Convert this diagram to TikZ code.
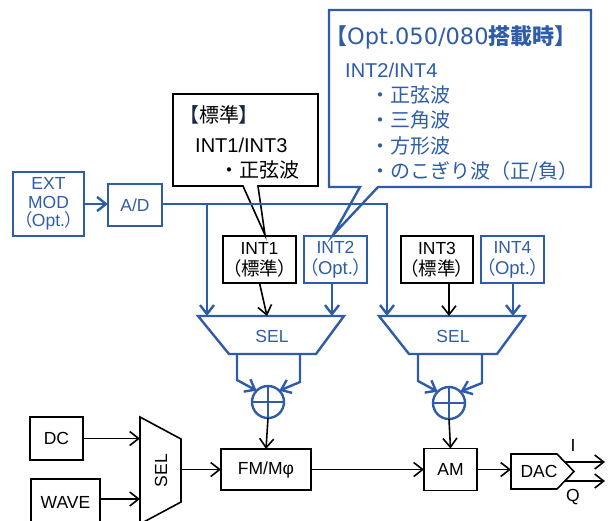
\documentclass[tikz,border=0pt]{standalone}
\usepackage{fontspec}
\setmainfont{Liberation Sans}
\newfontfamily\jp{Noto Sans CJK JP}
\newfontfamily\jpp[RawFeature=+palt]{Noto Sans CJK JP}
\newfontfamily\wide{DejaVu Sans}
\usetikzlibrary{arrows.meta}
\definecolor{bl}{RGB}{46,92,168}
\definecolor{navy}{RGB}{28,38,70}
\newcommand\lblfont{\fontsize{17.5}{21}\selectfont}
\newcommand\subfont{\fontsize{18.5}{21}\selectfont}
\newcommand\calfont{\fontsize{20}{24}\selectfont}
\begin{document}
\begin{tikzpicture}[x=1pt,y=-1pt,
  bk/.style={draw=black,line width=1.6pt},
  bu/.style={draw=bl,line width=2.4pt},
  kbox/.style={bk,inner sep=0pt,outer sep=0pt,align=center,font=\lblfont,text=black},
  ubox/.style={bu,inner sep=0pt,outer sep=0pt,align=center,font=\lblfont,text=bl},
  arr/.style={-{Straight Barb[length=9pt,width=14pt]}},
  lbl/.style={inner sep=0pt,font=\lblfont},
  cal/.style={inner sep=0pt,anchor=west,font=\calfont},
  sumc/.style={circle,bu,minimum size=32pt,inner sep=0pt,outer sep=0pt}
]
\useasboundingbox (0,0) rectangle (610,520);
\clip (0,0) rectangle (610,520);

% ---------- boxes ----------
\node[ubox,minimum width=71pt,minimum height=64pt,font={\fontsize{17.5}{18.5}\selectfont}] (ext) at (48.5,204) {EXT\\MOD\\{\jpp （}Opt.{\jpp ）}};
\node[ubox,minimum width=54pt,minimum height=42pt] (ad) at (135,205) {A/D};

\node[kbox,minimum width=73pt,minimum height=47pt] (int1) at (259.5,259.5) {INT1\\{\subfont\jpp （標準）}};
\node[ubox,minimum width=63pt,minimum height=47pt] (int2) at (335.5,259.5) {INT2\\{\subfont{\jpp （}Opt.{\jpp ）}}};
\node[kbox,minimum width=72pt,minimum height=47pt] (int3) at (437,259.5) {INT3\\{\subfont\jpp （標準）}};
\node[ubox,minimum width=63pt,minimum height=47pt] (int4) at (512.5,259.5) {INT4\\{\subfont{\jpp （}Opt.{\jpp ）}}};

\node[kbox,minimum width=53pt,minimum height=43pt] (dc) at (56.5,438.5) {DC};
\node[kbox,minimum width=69pt,minimum height=46pt] (wave) at (65.5,502) {WAVE};
\node[kbox,minimum width=90pt,minimum height=41pt] (fm) at (266,469.5) {FM/Mφ};
\node[kbox,minimum width=53pt,minimum height=42pt] (am) at (450.5,469.5) {AM};

% ---------- SEL trapezoids ----------
\draw[bu] (198,316) -- (344,316) -- (316,354) -- (229,354) -- cycle;
\node[lbl,text=bl] (sel1) at (272,336) {SEL};
\draw[bu] (379,316) -- (525,316) -- (497,354) -- (409,354) -- cycle;
\node[lbl,text=bl] (sel2) at (453,336) {SEL};
\draw[bk] (140,417) -- (181,439) -- (181,502) -- (140,524) -- cycle;
\node[lbl,rotate=90] (sel3) at (161,470.5) {SEL};

% ---------- DAC ----------
\draw[bk] (511,454) -- (557,454) -- (574,471.5) -- (557,489) -- (511,489) -- cycle;
\node[lbl] (dac) at (539,471) {DAC};
\coordinate (dacw) at (511,469.5);
\coordinate (dacI) at (565,462);
\coordinate (dacQ) at (565,481);
\coordinate (outI) at (605,462);
\coordinate (outQ) at (605,481);
\node[lbl] (lI) at (573,445) {I};
\node[lbl] (lQ) at (573,497) {Q};

% ---------- sum circles ----------
\node[sumc] (s1) at (268,402) {};
\draw[bu] (s1.north) -- (s1.south) (s1.west) -- (s1.east);
\node[sumc] (s2) at (449,403) {};
\draw[bu] (s2.north) -- (s2.south) (s2.west) -- (s2.east);

% ---------- coordinates ----------
\coordinate (sel1a) at (207,316);
\coordinate (sel1b) at (267,316);
\coordinate (sel1c) at (332,316);
\coordinate (sel2a) at (387,316);
\coordinate (sel2b) at (449,316);
\coordinate (sel2c) at (513,316);
\coordinate (bus0) at (207,204);
\coordinate (bus1) at (387,204);
\coordinate (sel3a) at (140,438.5);
\coordinate (sel3b) at (140,499);
\coordinate (sel3o) at (181,469.5);

% ---------- callouts ----------
\draw[bk] (173,94) -- (318,94) -- (318,186) -- (258,186) -- (265,235) -- (243,186) -- (173,186) -- cycle;
\node[cal,text=black] (c1a) at (189,115) {{\jpp\color{navy}【}{\jp 標準}{\jpp\color{navy}】}};
\node[cal,text=black] (c1b) at (195,145) {INT1/INT3};
\node[cal,text=black] (c1c) at (219,170) {\jp ・正弦波};

\draw[bu] (329,10) -- (591,10) -- (591,187) -- (378,187) -- (333,235) -- (360,187) -- (329,187) -- cycle;
\node[cal,text=bl,font={\fontsize{22}{26}\selectfont}] (c2a) at (336,37) {{\jpp\bfseries 【}{\wide\fontsize{22.5}{26}\selectfont Opt.050/080}{\jp\bfseries 搭載時}{\jpp\bfseries 】}};
\node[cal,text=bl] (c2b) at (345,70) {INT2/INT4};
\node[cal,text=bl] (c2c) at (370,95) {\jp ・正弦波};
\node[cal,text=bl] (c2d) at (370,120) {\jp ・三角波};
\node[cal,text=bl] (c2e) at (370,146) {\jp ・方形波};
\node[cal,text=bl] (c2f) at (370,172) {\jp ・のこぎり波（正/負）};

% ---------- connectors ----------
\draw[bu,arr] (ext.east |- 0,204) -- (ad.west |- 0,204);
\draw[bu] (ad.east |- 0,204) -- (bus0);
\draw[bu,arr] (bus0) -- (bus1) -- (sel2a);
\draw[bu,arr] (bus0) -- (sel1a);
\draw[bk,arr] (int1.south) -- (sel1b);
\draw[bu,arr] (int2.south -| sel1c) -- (sel1c);
\draw[bk,arr] (int3.south -| sel2b) -- (sel2b);
\draw[bu,arr] (int4.south -| sel2c) -- (sel2c);

\draw[bu,arr] (237,354) -- (237,380) -- (s1.north west);
\draw[bu,arr] (300,354) -- (300,382) -- (s1.north east);
\draw[bu,arr] (418,354) -- (418,381) -- (s2.north west);
\draw[bu,arr] (482,354) -- (482,383) -- (s2.north east);

\draw[bk,arr] (s1.south) -- (fm.north);
\draw[bk,arr] (s2.south) -- (am.north);
\draw[bk,arr] (dc.east) -- (sel3a);
\draw[bk,arr] (wave.east |- sel3b) -- (sel3b);
\draw[bk,arr] (sel3o) -- (fm.west);
\draw[bk,arr] (fm.east) -- (am.west);
\draw[bk,arr] (am.east) -- (dacw);
\draw[bk,arr] (dacI) -- (outI);
\draw[bk,arr] (dacQ) -- (outQ);
\end{tikzpicture}
\end{document}
